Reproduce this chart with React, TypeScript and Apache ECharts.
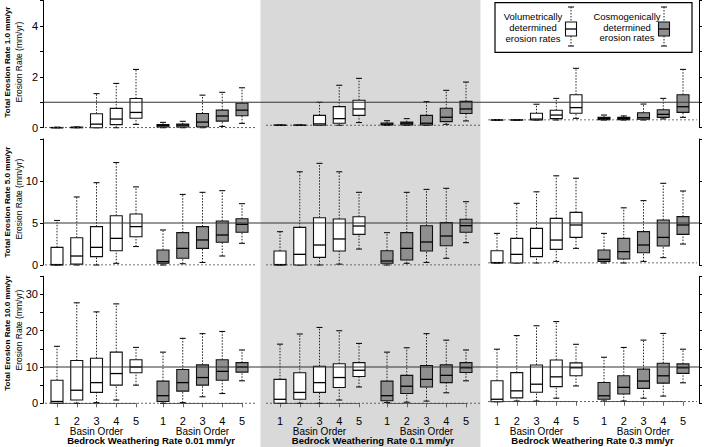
import React, { useEffect, useRef } from 'react';
import * as echarts from 'echarts';

const basinOrders = ['1', '2', '3', '4', '5'];
const totalRates = [1.0, 5.0, 10.0];
const weatheringRates = ['0.01', '0.1', '0.3'];

// each entry: [min, Q1, median, Q3, max] for basin orders 1..5
// Total erosion 1.0 mm/yr
const volT1W001 = [[0, 0, 0, 0.01, 0.02], [0, 0, 0.01, 0.02, 0.03], [0, 0, 0.14, 0.55, 1.34], [0, 0.12, 0.34, 0.76, 1.74], [0.13, 0.37, 0.6, 1.15, 2.29]];
const cosT1W001 = [[0, 0.03, 0.08, 0.12, 0.21], [0, 0.03, 0.1, 0.14, 0.25], [0, 0.04, 0.22, 0.56, 1.28], [0.05, 0.26, 0.46, 0.69, 1.39], [0.17, 0.47, 0.69, 0.96, 1.57]];
const volT1W01 = [[0, 0, 0, 0.01, 0.01], [0, 0, 0, 0.01, 0.01], [0, 0, 0.06, 0.43, 1.0], [0, 0.09, 0.29, 0.81, 1.74], [0.12, 0.43, 0.71, 1.09, 2.04]];
const cosT1W01 = [[0, 0.02, 0.05, 0.1, 0.2], [0, 0.02, 0.09, 0.14, 0.29], [0, 0.01, 0.09, 0.43, 1.03], [0.04, 0.16, 0.35, 0.74, 1.52], [0.19, 0.51, 0.71, 1.04, 1.88]];
const volT1W03 = [[0, 0, 0, 0, 0.01], [0, 0, 0, 0.01, 0.01], [0, 0, 0.05, 0.38, 0.89], [0, 0.08, 0.28, 0.55, 1.22], [0.09, 0.38, 0.7, 1.43, 2.92]];
const cosT1W03 = [[0, 0.02, 0.08, 0.15, 0.28], [0, 0.02, 0.09, 0.15, 0.23], [0, 0.04, 0.13, 0.41, 0.9], [0.06, 0.15, 0.32, 0.58, 1.22], [0.15, 0.43, 0.75, 1.43, 2.86]];
// Total erosion 5.0 mm/yr
const volT5W001 = [[0, 0, 0.05, 2.1, 5.3], [0, 0.1, 1.07, 3.25, 8.1], [0, 1.0, 2.1, 4.57, 9.8], [0.2, 1.7, 3.17, 5.87, 12.2], [2.2, 3.37, 4.57, 6.07, 9.3]];
const cosT5W001 = [[0, 0.2, 0.4, 1.79, 4.17], [0.15, 0.8, 1.98, 3.85, 8.4], [0.3, 1.98, 2.98, 4.57, 8.65], [1.07, 2.7, 3.57, 5.24, 8.85], [2.58, 3.89, 4.84, 5.5, 7.3]];
const volT5W01 = [[0, 0, 0.05, 1.67, 3.97], [0, 0, 1.27, 4.48, 11.1], [0, 0.91, 2.38, 5.63, 12.1], [0.1, 1.67, 3.1, 5.48, 11.1], [1.9, 3.65, 4.64, 5.75, 8.65]];
const cosT5W01 = [[0, 0.2, 0.48, 1.7, 3.85], [0.2, 0.6, 1.98, 3.85, 8.65], [0.3, 1.67, 2.74, 4.68, 9.0], [0.8, 2.3, 3.45, 5.04, 9.13], [2.66, 3.89, 4.68, 5.44, 7.54]];
const volT5W03 = [[0, 0, 0.05, 1.54, 3.7], [0, 0, 1.08, 3.08, 7.46], [0, 0.8, 1.83, 4.33, 8.9], [0.2, 1.7, 2.87, 5.58, 10.9], [1.83, 3.2, 4.75, 6.33, 10.6]];
const cosT5W03 = [[0, 0.2, 0.46, 1.63, 3.7], [0, 0.5, 1.42, 3.08, 6.9], [0.2, 1.29, 2.25, 3.92, 7.8], [0.67, 2.12, 3.2, 5.37, 9.96], [2.37, 3.58, 4.75, 5.8, 9.0]];
// Total erosion 10.0 mm/yr
const volT10W001 = [[0, 0, 0.5, 6.36, 15.7], [0, 0.9, 3.6, 11.8, 27.7], [0.2, 3.0, 5.7, 12.4, 25.2], [0.9, 5.0, 8.2, 14.1, 27.4], [5.0, 8.4, 10.0, 12.0, 15.4]];
const cosT10W001 = [[0, 0.5, 2.1, 6.1, 14.1], [0.2, 3.35, 5.7, 9.3, 17.9], [1.8, 5.0, 7.1, 10.6, 19.2], [2.7, 6.36, 8.8, 12.0, 19.8], [6.2, 8.6, 10.0, 11.2, 14.7]];
const volT10W01 = [[0, 0, 1.1, 6.6, 16.3], [0, 1.1, 3.0, 8.4, 19.1], [0, 3.0, 5.7, 10.2, 20.9], [0.9, 4.36, 7.1, 10.9, 20.0], [4.5, 7.4, 9.1, 11.2, 16.5]];
const cosT10W01 = [[0.2, 0.7, 2.1, 6.1, 14.1], [0.3, 2.7, 4.7, 7.7, 15.3], [0.6, 4.5, 6.6, 10.4, 19.2], [2.9, 5.7, 7.7, 10.6, 17.4], [6.2, 8.5, 9.8, 11.2, 14.7]];
const volT10W03 = [[0, 0, 0.7, 6.0, 15.0], [0.2, 1.1, 3.1, 8.3, 18.9], [0.2, 2.7, 5.0, 10.5, 21.7], [1.0, 4.3, 7.1, 11.9, 22.9], [4.5, 7.4, 9.7, 11.1, 16.4]];
const cosT10W03 = [[0.2, 0.7, 1.7, 5.5, 12.7], [0.2, 2.2, 4.1, 7.4, 15.5], [1.0, 3.8, 5.9, 9.3, 17.6], [1.6, 5.3, 7.4, 11.0, 19.5], [5.4, 8.1, 9.7, 10.8, 15.0]];

const volData = [
  [volT1W001, volT1W01, volT1W03],
  [volT5W001, volT5W01, volT5W03],
  [volT10W001, volT10W01, volT10W03],
];
const cosData = [
  [cosT1W001, cosT1W01, cosT1W03],
  [cosT5W001, cosT5W01, cosT5W03],
  [cosT10W001, cosT10W01, cosT10W03],
];

// ---------- layout (pixels) ----------
const FONT = "'Liberation Sans', Arial, Helvetica, sans-serif";
const ROW_MAX = [5, 15, 35];
const ROW_STEP = [1, 5, 5];
const ROW_LABEL_STEP = [2, 5, 10];
const ROW_Y = [[0.5, 127.7], [139, 265], [276.3, 403.3]];
const PANEL_Y = [
  [[0.5, 127.7], [10.3, 125.3], [31.5, 120]],
  [[139, 265], [139, 265], [143, 263]],
  [[276.3, 403.3], [276.3, 403.3], [279.2, 401.7]],
];
const COL_X = [
  { p: [45, 257], v: [57, 136], c: [163, 242] },
  { p: [266, 480], v: [280, 359], c: [387, 466] },
  { p: [488, 697], v: [497, 576], c: [604, 683] },
];
const Y_TITLE_Y = [[62, 62], [202, 199], [333, 330]];
const BRACKET_Y = 408.3;
const BEDROCK_TOP = 436;
const COSMO_FILL = '#8f8f8f';

function makeRenderItem(fill: string) {
  return (params: any, api: any) => {
    const x = api.value(0);
    const pMin = api.coord([x, api.value(1)]);
    const pQ1 = api.coord([x, api.value(2)]);
    const pMed = api.coord([x, api.value(3)]);
    const pQ3 = api.coord([x, api.value(4)]);
    const pMax = api.coord([x, api.value(5)]);
    const cx = pMin[0];
    const hw = 6;
    const cap = 3;
    const dash = { stroke: '#222', lineWidth: 1, lineDash: [1.5, 1.5] };
    const solid = { stroke: '#111', lineWidth: 1.1 };
    return {
      type: 'group',
      children: [
        { type: 'line', shape: { x1: cx, y1: pQ3[1], x2: cx, y2: pMax[1] }, style: dash },
        { type: 'line', shape: { x1: cx, y1: pMin[1], x2: cx, y2: pQ1[1] }, style: dash },
        { type: 'line', shape: { x1: cx - cap, y1: pMax[1], x2: cx + cap, y2: pMax[1] }, style: solid },
        { type: 'line', shape: { x1: cx - cap, y1: pMin[1], x2: cx + cap, y2: pMin[1] }, style: solid },
        {
          type: 'rect',
          shape: { x: cx - hw, y: pQ3[1], width: hw * 2, height: Math.max(pQ1[1] - pQ3[1], 0.01) },
          style: { fill, stroke: '#111', lineWidth: 1.1 },
        },
        { type: 'line', shape: { x1: cx - hw, y1: pMed[1], x2: cx + hw, y2: pMed[1] }, style: { stroke: '#000', lineWidth: 1.3 } },
      ],
    };
  };
}

function buildOption() {
  const grid: any[] = [];
  const xAxis: any[] = [];
  const yAxis: any[] = [];
  const series: any[] = [];
  const graphic: any[] = [];

  const addGrid = (left: number, right: number, top: number, bottom: number) => {
    grid.push({ left, top, width: right - left, height: bottom - top, containLabel: false });
    return grid.length - 1;
  };

  // grey band behind the middle column
  graphic.push({ type: 'rect', z: -10, shape: { x: 260.5, y: 0, width: 220, height: 447 }, style: { fill: '#d9d9d9' } });

  for (let r = 0; r < 3; r++) {
    const [top, bottom] = ROW_Y[r];
    const max = ROW_MAX[r];
    const labelStep = ROW_LABEL_STEP[r];
    const gi = addGrid(43, 699, top, bottom);
    const xi = xAxis.length;
    xAxis.push({ gridIndex: gi, type: 'value', min: 0, max: 1, show: false });
    const yl = yAxis.length;
    yAxis.push({
      gridIndex: gi, type: 'value', position: 'left', min: 0, max, interval: ROW_STEP[r],
      axisLine: { show: true, lineStyle: { color: '#000', width: 1 } },
      axisTick: { show: true, length: 3, lineStyle: { color: '#000', width: 1 } },
      axisLabel: {
        show: true, fontSize: 11, color: '#000', fontFamily: FONT, margin: 5,
        formatter: (v: number) => (v % labelStep === 0 && v < max ? String(v) : ''),
      },
      splitLine: { show: false },
    });
    yAxis.push({
      gridIndex: gi, type: 'value', position: 'right', min: 0, max, interval: ROW_STEP[r],
      axisLine: { show: true, lineStyle: { color: '#000', width: 1 } },
      axisTick: { show: true, length: 3, lineStyle: { color: '#000', width: 1 } },
      axisLabel: { show: false },
      splitLine: { show: false },
    });
    series.push({
      type: 'line', xAxisIndex: xi, yAxisIndex: yl, z: 6, silent: true, symbol: 'none',
      data: [[0, totalRates[r]], [1, totalRates[r]]],
      lineStyle: { color: '#333', width: 1.2 },
    });

    graphic.push({
      type: 'text', x: 7, y: Y_TITLE_Y[r][0], rotation: Math.PI / 2, z: 20,
      style: {
        text: `Total Erosion Rate ${totalRates[r].toFixed(1)} mm/yr`,
        fontSize: 8.1, fontWeight: 'bold', fontFamily: FONT, fill: '#000',
        align: 'center', verticalAlign: 'middle', textAlign: 'center', textVerticalAlign: 'middle',
      },
    });
    graphic.push({
      type: 'text', x: 18.5, y: Y_TITLE_Y[r][1], rotation: Math.PI / 2, z: 20,
      style: {
        text: 'Erosion Rate (mm/yr)',
        fontSize: 8.5, fontFamily: FONT, fill: '#000',
        align: 'center', verticalAlign: 'middle', textAlign: 'center', textVerticalAlign: 'middle',
      },
    });

    for (let c = 0; c < 3; c++) {
      const [pTop, pBottom] = PANEL_Y[r][c];
      const cx = COL_X[c];
      const isBottom = r === 2;

      const pg = addGrid(cx.p[0], cx.p[1], pTop, pBottom);
      const pxi = xAxis.length;
      xAxis.push({
        gridIndex: pg, type: 'value', min: 0, max: 1, show: isBottom,
        axisLine: { show: false }, axisTick: { show: false }, axisLabel: { show: false }, splitLine: { show: false },
        name: isBottom ? `Bedrock Weathering Rate ${weatheringRates[c]} mm/yr` : '',
        nameLocation: 'middle', nameGap: BEDROCK_TOP - pBottom, nameMoveOverlap: false,
        nameTextStyle: { fontSize: 9.5, lineHeight: 9.5, fontWeight: 'bold', color: '#000', fontFamily: FONT },
      });
      const pyi = yAxis.length;
      yAxis.push({ gridIndex: pg, type: 'value', min: 0, max, show: false });
      series.push({
        type: 'line', xAxisIndex: pxi, yAxisIndex: pyi, z: 5, silent: true, symbol: 'none',
        data: [[0, 0], [1, 0]],
        lineStyle: { color: '#444', width: 1, type: [2, 2] },
      });

      const groups = [
        { x: cx.v, data: volData[r][c], fill: '#ffffff' },
        { x: cx.c, data: cosData[r][c], fill: COSMO_FILL },
      ];
      for (const g of groups) {
        const bg = addGrid(g.x[0], g.x[1], pTop, pBottom);
        const bxi = xAxis.length;
        xAxis.push({
          gridIndex: bg, type: 'category', data: basinOrders, boundaryGap: false, show: isBottom,
          position: 'bottom', offset: BRACKET_Y - pBottom,
          axisLine: { show: true, lineStyle: { color: '#666', width: 1 } },
          axisTick: { show: true, length: 4, lineStyle: { color: '#666', width: 1 } },
          axisLabel: { show: true, interval: 0, fontSize: 11, lineHeight: 10.5, color: '#000', fontFamily: FONT, margin: 7 },
          splitLine: { show: false },
          name: isBottom ? 'Basin Order' : '', nameLocation: 'middle', nameGap: 18, nameMoveOverlap: false,
          nameTextStyle: { fontSize: 10, lineHeight: 9.5, color: '#000', fontFamily: FONT },
        });
        const byi = yAxis.length;
        yAxis.push({ gridIndex: bg, type: 'value', min: 0, max, show: false });
        series.push({
          type: 'custom', xAxisIndex: bxi, yAxisIndex: byi, z: 3, silent: true,
          renderItem: makeRenderItem(g.fill),
          encode: { x: 0, y: [1, 2, 3, 4, 5] },
          data: g.data.map((d, i) => [i, ...d]),
        });
      }
    }
  }

  const legendText = (x: number, y: number, text: string) => ({
    type: 'text', x, y, z: 21,
    style: {
      text, fontSize: 9.5, fontFamily: FONT, fill: '#000', lineHeight: 10.7,
      align: 'center', verticalAlign: 'middle', textAlign: 'center', textVerticalAlign: 'middle',
    },
  });
  const legendIcon = (cx: number, fill: string) => {
    const dash = { stroke: '#222', lineWidth: 1, lineDash: [1.5, 1.5] };
    const solid = { stroke: '#111', lineWidth: 1.1 };
    return [
      { type: 'line', z: 21, shape: { x1: cx, y1: 7, x2: cx, y2: 22 }, style: dash },
      { type: 'line', z: 21, shape: { x1: cx, y1: 36, x2: cx, y2: 46 }, style: dash },
      { type: 'line', z: 21, shape: { x1: cx - 3, y1: 7, x2: cx + 3, y2: 7 }, style: solid },
      { type: 'line', z: 21, shape: { x1: cx - 3, y1: 46, x2: cx + 3, y2: 46 }, style: solid },
      { type: 'rect', z: 21, shape: { x: cx - 5.5, y: 22, width: 11, height: 14 }, style: { fill, stroke: '#111', lineWidth: 1.1 } },
      { type: 'line', z: 22, shape: { x1: cx - 5.5, y1: 29, x2: cx + 5.5, y2: 29 }, style: { stroke: '#000', lineWidth: 1.3 } },
    ];
  };
  graphic.push({ type: 'rect', z: 20, shape: { x: 495, y: 2.7, width: 197, height: 49.6 }, style: { fill: '#fff', stroke: '#000', lineWidth: 1.2 } });
  graphic.push(legendText(533, 27.5, 'Volumetrically\ndetermined\nerosion rates'));
  graphic.push(legendText(627, 27, 'Cosmogenically\ndetermined\nerosion rates'));
  graphic.push(...legendIcon(571, '#ffffff'));
  graphic.push(...legendIcon(664, COSMO_FILL));

  return {
    animation: false,
    backgroundColor: '#ffffff',
    textStyle: { fontFamily: FONT },
    grid, xAxis, yAxis, series,
    graphic: { elements: graphic },
  };
}

export default function App() {
  const ref = useRef<HTMLDivElement>(null);
  useEffect(() => {
    if (!ref.current) return;
    const chart = echarts.init(ref.current, null, { renderer: 'svg' });
    chart.setOption(buildOption() as any);
    return () => chart.dispose();
  }, []);
  return (
    <div
      ref={ref}
      style={{ position: 'absolute', left: 0, top: 0, width: 705, height: 447, background: '#fff' }}
    />
  );
}
